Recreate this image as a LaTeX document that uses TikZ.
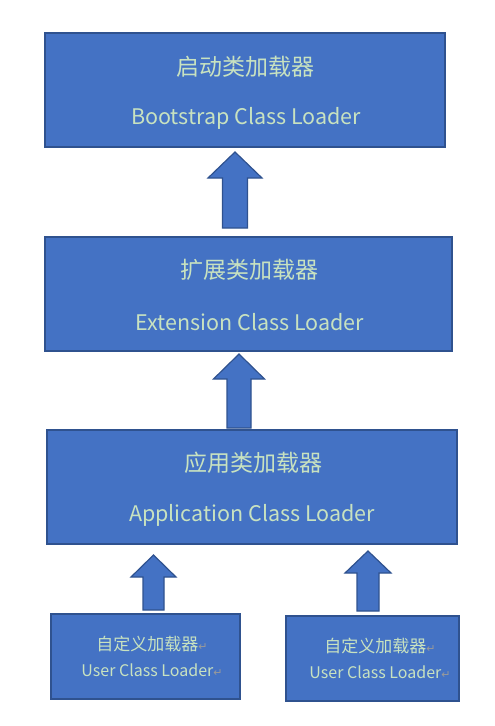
\documentclass[tikz,border=0pt]{standalone}
\usepackage{fontspec}
\setmainfont{Noto Sans CJK SC}
\newfontfamily\markfont{DejaVu Sans}
\usepackage{xcolor}
\definecolor{boxfill}{HTML}{4472C4}
\definecolor{boxline}{HTML}{2F528F}
\definecolor{boxtext}{HTML}{C8E2C0}
\definecolor{markgray}{HTML}{9A9A9A}
\newcommand{\retmark}{{\markfont\color{markgray}\fontsize{11}{12}\selectfont ↵}}

\begin{document}
\begin{tikzpicture}[x=1pt, y=-1pt,
    loaderbox/.style={draw=boxline, fill=boxfill, line width=1.6pt},
    bigcn/.style={text=boxtext, font=\fontsize{23}{26}\selectfont, inner sep=0pt},
    bigen/.style={text=boxtext, font=\fontsize{21.5}{24}\selectfont, inner sep=0pt},
    smallcn/.style={text=boxtext, font=\fontsize{17}{20}\selectfont, inner sep=0pt},
    smallen/.style={text=boxtext, font=\fontsize{16}{19}\selectfont, inner sep=0pt},
    uparrow/.style={draw=boxline, fill=boxfill, line width=1.2pt, line join=miter}]
        \useasboundingbox (0,0) rectangle (495,726);
        % Loader boxes
        \draw[loaderbox] (45,33) rectangle (445,147);
        \draw[loaderbox] (45,237) rectangle (452,351);
        \draw[loaderbox] (47,430) rectangle (457,544);
        \draw[loaderbox] (51,614) rectangle (240,699);
        \draw[loaderbox] (286,616) rectangle (459,701);
        % Box texts
        \node[bigcn] (bootcn) at (245,67) {启动类加载器};
        \node[bigen] (booten) at (246,118) {Bootstrap Class Loader};
        \node[bigcn] (extcn) at (249,270) {扩展类加载器};
        \node[bigen] (exten) at (250,322) {Extension Class Loader};
        \node[bigcn] (appcn) at (253,463) {应用类加载器};
        \node[bigen] (appen) at (252,515) {Application Class Loader};
        \node[smallcn] (usercn) at (152,644) {自定义加载器\retmark};
        \node[smallen] (useren) at (152,670) {User Class Loader\retmark};
        \node[smallcn] (usercnb) at (380,646) {自定义加载器\retmark};
        \node[smallen] (userenb) at (380,672) {User Class Loader\retmark};
        % Block arrows
        \foreach \x/\tip/\base/\bottom/\hw/\sw in {235/152/178/228/27/12.5, 239/354/379/428/25.5/12, 153.5/555/577/610/22.5/10.5, 368/551/573/611/23/11} {
            \draw[uparrow] (\x,\tip) -- (\x+\hw,\base) -- (\x+\sw,\base) -- (\x+\sw,\bottom)
                -- (\x-\sw,\bottom) -- (\x-\sw,\base) -- (\x-\hw,\base) -- cycle;
        }
    \end{tikzpicture}
\end{document}
